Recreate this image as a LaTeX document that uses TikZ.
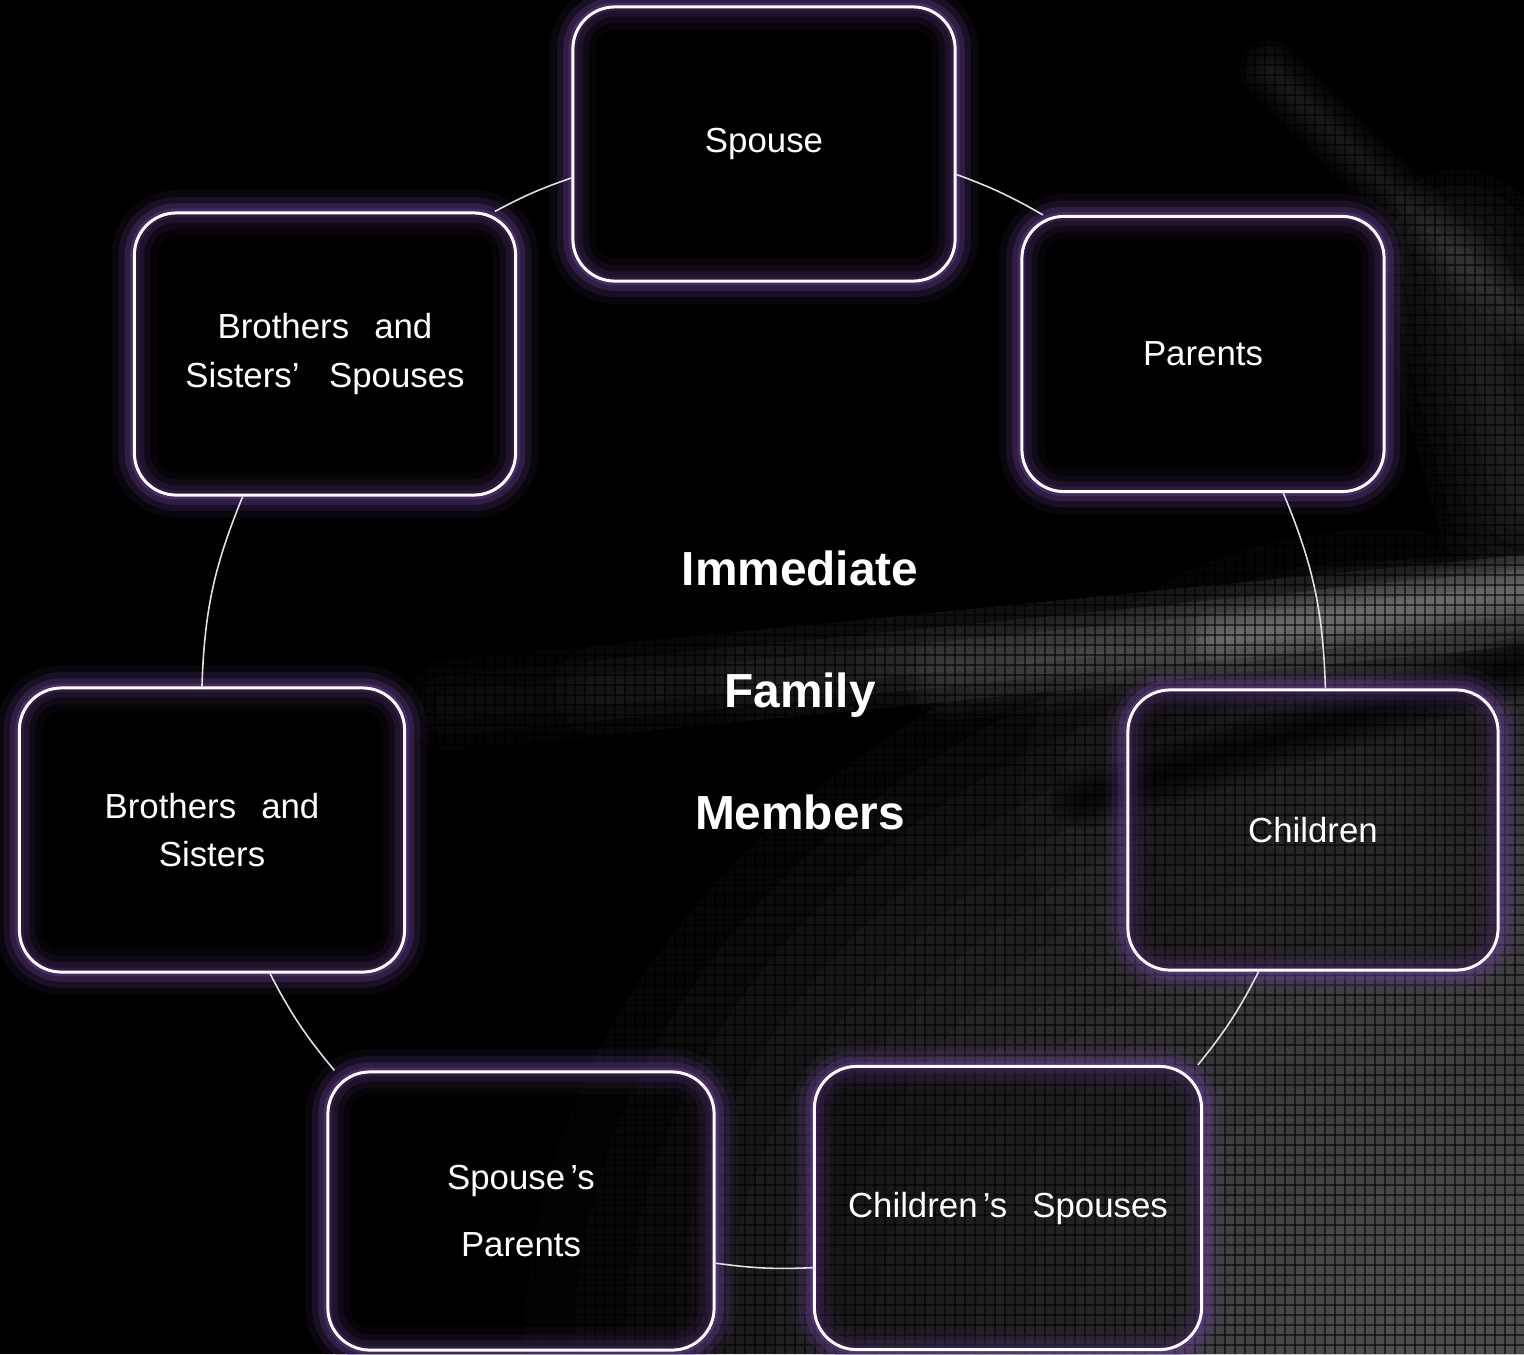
\documentclass[tikz,border=0pt]{standalone}
\usepackage{fontspec}
\setmainfont{Liberation Sans}
\definecolor{glowpurple}{RGB}{100,62,140}
\definecolor{linkgray}{RGB}{225,225,225}
\newcommand{\apos}{\kern0.15em’}

\tikzset{
    member/.style={draw=white, line width=0.85pt, rounded corners=0.42cm,
        inner sep=0pt, fill=black, fill opacity=0.35, text opacity=1,
        text=white, align=center, font=\fontsize{9.9}{13.9}\selectfont,
        preaction={draw=glowpurple, line width=13pt, draw opacity=0.1, fill=none},
        preaction={draw=glowpurple, line width=9pt, draw opacity=0.18, fill=none},
        preaction={draw=glowpurple, line width=5.5pt, draw opacity=0.3, fill=none},
        preaction={draw=glowpurple, line width=2.5pt, draw opacity=0.4, fill=none}},
    link/.style={draw=linkgray, line width=0.45pt},
    haze/.style={draw=#1, line cap=round, opacity=0.05}
}

\begin{document}
\begin{tikzpicture}[x=0.01cm, y=-0.01cm]
    \useasboundingbox (0,0) rectangle (1524,1354);

    % The dark backdrop, lighter towards the lower right
    \fill[black] (0,0) rectangle (1524,1354);
    \foreach \r in {150,200,...,1000}
        \fill[gray!80, opacity=0.045] (1524,1354) ellipse (\r*1.0 and \r*0.8);
    \foreach \r in {40,80,...,360}
        \fill[gray, opacity=0.045] (1380,800) ellipse (\r*1.0 and \r*0.75);

    % Light streaks
    \foreach \s in {450,600,...,1050}
        \foreach \w in {30,60,90}
            \draw[haze=gray, line width=\w*0.2845pt, opacity=0.035] (\s,{705-(\s-450)*0.0978}) -- (1524,600);
    \foreach \w in {15,30,...,90}
        \draw[haze=gray, line width=\w*0.2845pt] (950,675) .. controls (1100,665) and (1300,630) .. (1524,598);
    \foreach \w in {10,20,...,60}
        \draw[haze=gray!70!white, line width=\w*0.2845pt, opacity=0.07] (1220,637) -- (1524,585);
    \foreach \w in {10,20,...,60}
        \draw[haze=gray, line width=\w*0.2845pt, opacity=0.04] (1270,70) -- (1524,320);
    \foreach \w in {30,60,...,180}
        \draw[haze=gray, line width=\w*0.2845pt] (1460,260) -- (1524,500);
    \foreach \w in {10,20,...,60}
        \draw[haze=black, line width=\w*0.2845pt, opacity=0.15] (1080,800) -- (1524,665);

    % The grid texture
    \foreach \gx in {405,415,...,1524}
        \draw[black, opacity=0.55, line width=0.3pt] (\gx,0) -- (\gx,1354);
    \foreach \gy in {5,15,...,1354}
        \draw[black, opacity=0.55, line width=0.3pt] (400,\gy) -- (1524,\gy);

    % The seven boxes round the circle
    \node[member, minimum width=3.82cm, minimum height=2.74cm] (spouse) at (764,144) {Spouse};
    \node[member, minimum width=3.62cm, minimum height=2.75cm] (parents) at (1203,354) {Parents};
    \node[member, minimum width=3.70cm, minimum height=2.80cm] (children) at (1313,830) {Children};
    \node[member, minimum width=3.87cm, minimum height=2.83cm] (childsp) at (1008,1208)
        {Children\apos s\hspace{0.72em}Spouses};
    \node[member, minimum width=3.86cm, minimum height=2.78cm] (spousepar) at (521,1211)
        {Spouse\apos s\\[5.4pt]Parents};
    \node[member, minimum width=3.85cm, minimum height=2.84cm] (sibs) at (212,830)
        {Brothers\hspace{0.72em}and\\Sisters};
    \node[member, minimum width=3.81cm, minimum height=2.82cm] (sibsp) at (325,354)
        {Brothers\hspace{0.72em}and\\Sisters’\hspace{0.85em}Spouses};

    % Arcs of the circle between the boxes
    \draw[link] (spouse.-9.8) to[bend left=4.85] (parents.139.8);
    \draw[link] (parents.-60.2) to[bend left=10.4] (children.85.5);
    \draw[link] (children.-111.4) to[bend left=6] (childsp.37.5);
    \draw[link] (childsp.-163.7) to[bend left=5.2] (spousepar.-15.6);
    \draw[link] (spousepar.143.1) to[bend left=6.2] (sibs.-68.7);
    \draw[link] (sibs.94.8) to[bend left=10.2] (sibsp.-120.8);
    \draw[link] (sibsp.40.5) to[bend left=4.6] (spouse.-170.5);

    % Title in the middle
    \node[text=white, align=center, font=\bfseries\fontsize{13.6}{34.7}\selectfont] (title) at (800,690)
        {Immediate\\Family\\Members};
\end{tikzpicture}
\end{document}
